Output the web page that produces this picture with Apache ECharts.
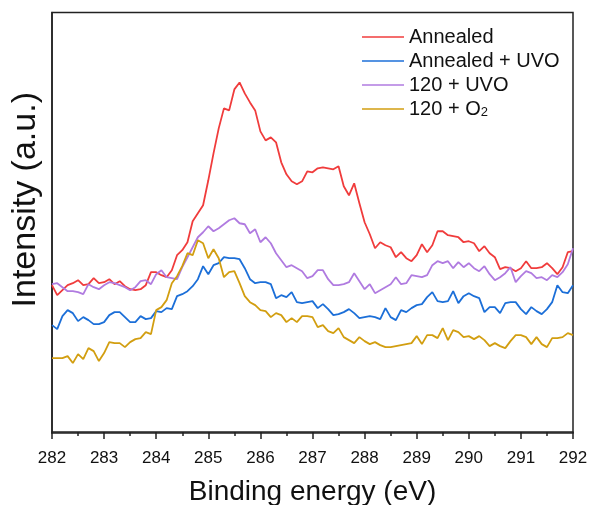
<!DOCTYPE html>
<html>
<head>
<meta charset="utf-8">
<script src="https://cdn.jsdelivr.net/npm/echarts@6/dist/echarts.min.js"></script>
<style>
html,body{margin:0;padding:0;background:#fff;}
#main{width:590px;height:505px;}
</style>
</head>
<body>
<div id="main"></div>
<script>
// binding energy (eV), 0.1 eV step
var energy = [282.0,282.1,282.2,282.3,282.4,282.5,282.6,282.7,282.8,282.9,
    283.0,283.1,283.2,283.3,283.4,283.5,283.6,283.7,283.8,283.9,
    284.0,284.1,284.2,284.3,284.4,284.5,284.6,284.7,284.8,284.9,
    285.0,285.1,285.2,285.3,285.4,285.5,285.6,285.7,285.8,285.9,
    286.0,286.1,286.2,286.3,286.4,286.5,286.6,286.7,286.8,286.9,
    287.0,287.1,287.2,287.3,287.4,287.5,287.6,287.7,287.8,287.9,
    288.0,288.1,288.2,288.3,288.4,288.5,288.6,288.7,288.8,288.9,
    289.0,289.1,289.2,289.3,289.4,289.5,289.6,289.7,289.8,289.9,
    290.0,290.1,290.2,290.3,290.4,290.5,290.6,290.7,290.8,290.9,
    291.0,291.1,291.2,291.3,291.4,291.5,291.6,291.7,291.8,291.9,292.0];

var seriesNames = ['Annealed','Annealed + UVO','120 + UVO','120 + O2'];
var seriesColors = ['#f03c3c','#1c6fd8','#b07be0','#d29e10'];

// intensity (a.u., offset as plotted)
var annealed = [147,137,142,147,149,152,147,148,154,149,150,153,148,151,146,143,142,143,147,160,160,157,
    155,162,177,182,190,211,219,227,252,279,304,324,322,343,350,339,330,322,301,292,
    295,290,270,258,251,248,251,261,260,264,265,264,263,266,246,237,249,229,210,198,
    184,190,187,185,175,180,174,171,177,188,180,187,201,201,197,196,195,190,191,189,
    181,186,179,175,163,165,164,161,164,171,164,164,165,169,164,158,165,180,181];

var annealedUvo = [107,103,116,122,119,111,115,112,108,108,110,117,120,120,115,110,110,116,113,114,121,120,
    124,123,136,138,141,146,153,166,158,167,169,175,174,174,173,164,153,149,150,150,
    148,134,137,135,140,130,129,130,131,124,128,123,117,118,120,123,119,114,115,116,
    115,113,124,115,112,122,120,124,127,128,135,140,131,130,131,141,129,136,139,136,
    134,120,125,125,119,129,130,130,123,118,125,121,118,123,130,147,140,139,147];

var uvo120 = [148,149,145,141,141,140,138,148,145,143,147,150,149,147,145,142,145,151,152,148,158,162,
    155,154,153,165,175,185,195,200,206,201,204,208,212,214,209,208,199,203,190,195,
    189,179,172,165,167,164,161,154,156,162,162,153,147,147,148,150,159,151,143,148,
    139,142,145,148,155,148,149,157,156,155,157,167,171,169,171,164,170,165,169,164,
    161,166,158,152,155,159,165,150,156,161,159,154,155,152,157,155,160,168,184];

var o2120 = [74,74,74,76,69,78,73,84,81,71,79,90,89,89,85,90,93,94,100,98,122,125,
    132,149,156,166,179,177,192,189,174,183,174,155,160,161,149,136,130,127,122,121,
    115,119,117,110,114,110,116,116,115,105,107,101,99,104,95,92,89,95,91,88,
    90,87,85,85,86,87,88,89,96,88,97,97,94,104,92,102,100,95,96,93,
    96,92,86,89,86,84,91,97,97,95,88,95,88,85,94,94,95,99,97];

var xTicks = [282,283,284,285,286,287,288,289,290,291,292];

var allData = [annealed, annealedUvo, uvo120, o2120];
var fontFam = '"Liberation Sans", Arial, sans-serif';

function pairs(ys){
    var out = [];
    for(var i = 0; i < ys.length; i++){
        out.push([energy[i], ys[i]]);
    }
    return out;
}

var series = [];
for(var s = 0; s < seriesNames.length; s++){
    series.push({
        name: seriesNames[s],
        type: 'line',
        symbol: 'none',
        smooth: false,
        lineStyle: {width: 1.8, color: seriesColors[s]},
        itemStyle: {color: seriesColors[s]},
        data: pairs(allData[s])
    });
}

var myChart = echarts.init(document.getElementById('main'));
var option = {
    animation: false,
    backgroundColor: '#fff',
    grid: {
        left: 52,
        right: 17,
        top: 12.5,
        bottom: 72,
        outerBoundsMode: 'none',
        containLabel: false,
        show: true,
        borderColor: '#222',
        borderWidth: 1.5
    },
    legend: {
        orient: 'vertical',
        left: 357,
        top: 22,
        icon: 'rect',
        itemWidth: 42,
        itemHeight: 1.5,
        itemGap: 4,
        data: seriesNames,
        formatter: function(name){
            if(name === '120 + O2'){
                return '120 + O{sub|2}';
            }
            return name;
        },
        textStyle: {
            fontSize: 20,
            fontFamily: fontFam,
            color: '#111',
            rich: {
                sub: {fontSize: 13, lineHeight: 13, verticalAlign: 'bottom', padding: [6, 0, 0, 0]}
            }
        }
    },
    xAxis: {
        type: 'value',
        min: 282,
        max: 292,
        interval: 1,
        name: 'Binding energy (eV)',
        nameLocation: 'middle',
        nameGap: 45,
        nameTextStyle: {fontSize: 28, fontFamily: fontFam, color: '#111'},
        axisLine: {show: true, lineStyle: {color: '#222', width: 1.5}},
        axisTick: {show: true, inside: false, length: 7, lineStyle: {color: '#222', width: 1.5}},
        minorTick: {show: true, splitNumber: 2, length: 4, lineStyle: {color: '#222', width: 1.5}},
        axisLabel: {
            margin: 17,
            fontSize: 17,
            fontFamily: fontFam,
            color: '#111',
            formatter: function(v){
                return xTicks.indexOf(v) > -1 ? String(v) : '';
            }
        },
        splitLine: {show: false}
    },
    yAxis: {
        type: 'value',
        min: -1,
        max: 420,
        name: 'Intensity (a.u.)',
        nameLocation: 'middle',
        nameGap: 9,
        nameTextStyle: {fontSize: 34, fontFamily: fontFam, color: '#111', padding: [0, 0, 0, 46]},
        axisLine: {show: true, lineStyle: {color: '#222', width: 1.5}},
        axisTick: {show: false},
        axisLabel: {show: false},
        splitLine: {show: false}
    },
    series: series
};
myChart.setOption(option);
</script>
</body>
</html>
